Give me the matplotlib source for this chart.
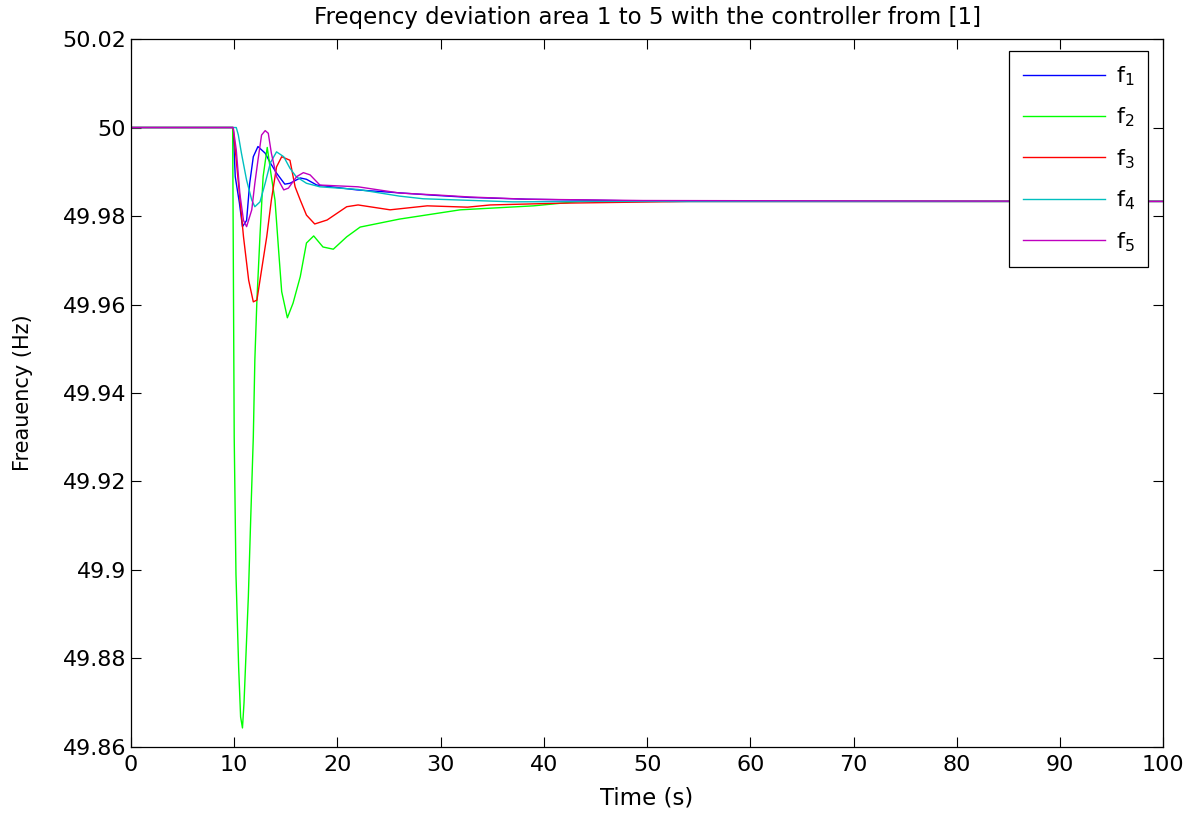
import numpy as np
import matplotlib
matplotlib.use('Agg')
import matplotlib.pyplot as plt
from matplotlib.ticker import FuncFormatter

plt.rcParams['font.family'] = ['DejaVu Sans']
plt.rcParams['mathtext.fontset'] = 'dejavusans'

# values (time in s, frequency in Hz)
t1 = [0, 9.9, 10.1, 10.5, 10.8, 11.2, 11.5, 11.85, 12.3, 13.0, 13.5, 14.1, 14.9, 15.4, 16.4, 17.0, 18.0,
      21.9, 29.3, 32.8, 38.3, 52.2, 100]
f1 = [50.0, 50.0, 49.9889, 49.983, 49.9776, 49.979, 49.9874, 49.9934, 49.9957, 49.9942, 49.992, 49.9897,
      49.9872, 49.9874, 49.9886, 49.9883, 49.987, 49.9859, 49.9847, 49.9842, 49.9838, 49.9833, 49.9833]

t2 = [0, 9.85, 10.0, 10.17, 10.43, 10.62, 10.8, 10.95, 11.37, 11.6, 11.85, 12.0, 12.2, 12.5, 12.8, 13.2,
      13.6, 13.95, 14.3, 14.6, 15.15, 15.7, 16.4, 17.0, 17.7, 18.6, 19.6, 20.9, 22.2, 26.0, 31.9, 39.0,
      43.5, 100]
f2 = [50.0, 50.0, 49.930, 49.899, 49.878, 49.8668, 49.8643, 49.870, 49.894, 49.9117, 49.930, 49.9475,
      49.961, 49.9757, 49.9889, 49.9955, 49.9889, 49.9836, 49.9723, 49.9629, 49.957, 49.9603, 49.9663,
      49.9739, 49.9755, 49.973, 49.9725, 49.9753, 49.9775, 49.9793, 49.9814, 49.9823, 49.9833, 49.9833]

t3 = [0, 9.9, 10.9, 11.4, 11.85, 12.2, 12.65, 13.15, 13.6, 14.1, 14.6, 15.4, 15.9, 16.4, 17.0, 17.8,
      19.0, 20.9, 22.0, 25.1, 28.7, 32.6, 34.8, 41.6, 54.0, 100]
f3 = [50.0, 50.0, 49.9753, 49.9655, 49.9606, 49.961, 49.9678, 49.9753, 49.9836, 49.9911, 49.9934, 49.9926,
      49.9866, 49.9836, 49.9802, 49.9782, 49.9791, 49.9821, 49.9825, 49.9814, 49.9823, 49.982, 49.9825,
      49.9829, 49.9833, 49.9833]

t4 = [0, 10.2, 10.4, 10.7, 11.2, 11.7, 12.0, 12.5, 13.0, 13.5, 14.1, 14.8, 15.4, 16.0, 17.0, 18.3, 22.0,
      26.0, 28.3, 37.0, 45.0, 100]
f4 = [50.0, 50.0, 49.9983, 49.9942, 49.9881, 49.9836, 49.9821, 49.9832, 49.9874, 49.992, 49.9945, 49.9934,
      49.9908, 49.9889, 49.9874, 49.9866, 49.986, 49.9845, 49.9839, 49.9832, 49.9833, 49.9833]

t5 = [0, 9.9, 10.2, 10.55, 10.9, 11.2, 11.7, 12.0, 12.3, 12.65, 13.0, 13.3, 13.6, 14.1, 14.8, 15.25, 16.05,
      16.7, 17.35, 18.3, 22.0, 26.0, 30.0, 32.8, 38.3, 49.6, 100]
f5 = [50.0, 50.0, 49.9949, 49.985, 49.979, 49.9776, 49.9814, 49.9874, 49.9926, 49.9983, 49.9993, 49.9987,
      49.9942, 49.9889, 49.9859, 49.9863, 49.9889, 49.9898, 49.9893, 49.987, 49.9866, 49.9852, 49.9847,
      49.9843, 49.9838, 49.9835, 49.9833]

series = [(t1, f1, 'b'), (t2, f2, (0, 1, 0)), (t3, f3, 'r'), (t4, f4, 'c'), (t5, f5, 'm')]
labels = ['f$_1$', 'f$_2$', 'f$_3$', 'f$_4$', 'f$_5$']

fig = plt.figure(figsize=(11.93, 8.13), dpi=100)
ax = fig.add_axes([0.1098, 0.0812, 0.8652, 0.8708])

for (t, f, c), lab in zip(series, labels):
    ax.plot(t, f, color=c, lw=1.0, label=lab)

ax.set_xlim(0, 100)
ax.set_ylim(49.86, 50.02)
ax.set_xticks(np.arange(0, 101, 10))
ax.set_yticks(np.arange(49.86, 50.021, 0.02))
ax.yaxis.set_major_formatter(FuncFormatter(lambda v, p: '%g' % round(v, 4)))
ax.tick_params(direction='in', length=7, width=0.8, top=True, right=True, labelsize=16)
ax.tick_params(axis='x', pad=6)
for s in ax.spines.values():
    s.set_linewidth(0.9)

ax.set_title('Freqency deviation area 1 to 5 with the controller from [1]', fontsize=16.5, pad=11)
ax.set_xlabel('Time (s)', fontsize=16.5, labelpad=8)
ax.set_ylabel('Freauency (Hz)', fontsize=15, labelpad=21)

leg = ax.legend(loc='upper right', bbox_to_anchor=(0.9855, 0.983), borderaxespad=0, fontsize=16,
                handlelength=3.7, labelspacing=0.8, fancybox=False, framealpha=1, edgecolor='k',
                borderpad=0.6, handletextpad=0.5)
leg.get_frame().set_linewidth(0.9)

fig.savefig('out.png', dpi=100)
